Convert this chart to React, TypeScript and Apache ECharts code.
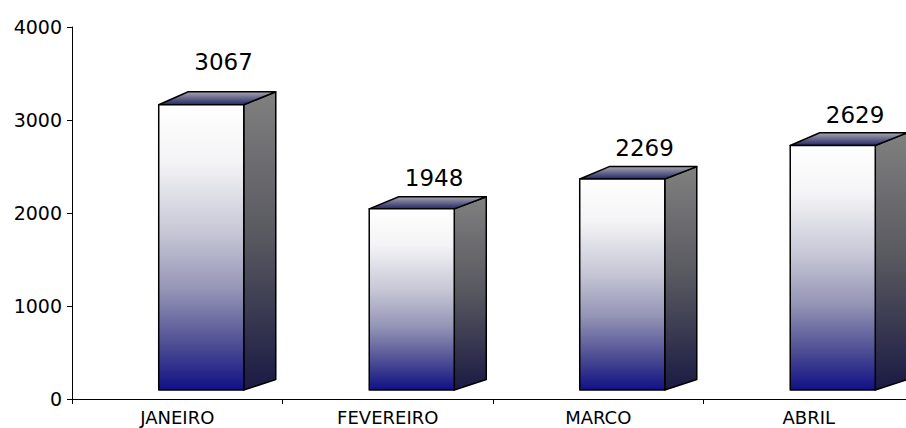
import React, { useEffect, useRef } from "react";
import * as echarts from "echarts";

// Monthly totals
const categories = ["JANEIRO", "FEVEREIRO", "MARCO", "ABRIL"];
const values = [3067, 1948, 2269, 2629];

// Value axis
const yMin = 0;
const yMax = 4000;
const yStep = 1000;

const FONT = "'DejaVu Sans', 'Liberation Sans', Arial, sans-serif";

// Extra lift for labels that Excel pushed higher
const labelNudge: Record<number, number> = { 0: 12 };

export default function App() {
  const ref = useRef<HTMLDivElement>(null);

  useEffect(() => {
    if (!ref.current) return;
    const chart = echarts.init(ref.current, undefined, { renderer: "svg" });

    const frontFill = new echarts.graphic.LinearGradient(0, 0, 0, 1, [
      { offset: 0, color: "#ffffff" },
      { offset: 0.2, color: "#f4f4f6" },
      { offset: 0.45, color: "#c6c6d6" },
      { offset: 0.65, color: "#9494b6" },
      { offset: 0.85, color: "#4a4a92" },
      { offset: 1, color: "#101086" },
    ]);
    const sideFill = new echarts.graphic.LinearGradient(0, 0, 0, 1, [
      { offset: 0, color: "#808080" },
      { offset: 0.5, color: "#57575f" },
      { offset: 1, color: "#1a1a44" },
    ]);
    const topFill = new echarts.graphic.LinearGradient(0, 0, 0, 1, [
      { offset: 0, color: "#a6a6ae" },
      { offset: 1, color: "#262668" },
    ]);

    const edge = { stroke: "#000000", lineWidth: 1.5, lineJoin: "round" };

    chart.setOption({
      animation: false,
      backgroundColor: "#ffffff",
      grid: {
        left: 72,
        top: 27,
        width: 842,
        height: 372,
        containLabel: false,
        outerBoundsMode: "none",
      },
      xAxis: {
        type: "category",
        data: categories,
        boundaryGap: true,
        axisLine: { show: true, lineStyle: { color: "#000000", width: 1 } },
        axisTick: { show: true, length: 5, lineStyle: { color: "#000000" } },
        axisLabel: {
          color: "#000000",
          fontFamily: FONT,
          fontSize: 18,
          margin: 9,
        },
        splitLine: { show: false },
      },
      yAxis: {
        type: "value",
        min: yMin,
        max: yMax,
        interval: yStep,
        axisLine: { show: true, lineStyle: { color: "#000000", width: 1 } },
        axisTick: { show: true, length: 5, lineStyle: { color: "#000000" } },
        axisLabel: {
          color: "#000000",
          fontFamily: FONT,
          fontSize: 19,
          margin: 10,
          formatter: (v: number) => String(v),
        },
        splitLine: { show: false },
      },
      series: [
        {
          type: "custom",
          encode: { x: 0, y: 1 },
          data: categories.map((_, i) => [i, values[i]]),
          renderItem: (params: any, api: any) => {
            const idx = api.value(0);
            const v = api.value(1);
            const top = api.coord([idx, v]);
            const base = api.coord([idx, 0]);
            const band = api.size([1, 0])[0];

            // the box floor sits slightly above the axis
            const lift = 9;
            const fx0 = top[0] - band * 0.088;
            const fw = band * 0.404;
            const fx1 = fx0 + fw;
            const yT = top[1] - lift;
            const yB = base[1] - lift;
            const h = yB - yT;

            // receding depth edges
            const dxL = 29.5;
            const dxR = 32;
            const dyTop = -(10.5 + h * 0.009);
            const dyBot = -10.5;

            const labelX = top[0] + band * 0.22;
            const labelY = yT - 31 - (labelNudge[params.dataIndex] || 0);

            return {
              type: "group",
              children: [
                {
                  type: "polygon",
                  shape: {
                    points: [
                      [fx1, yT],
                      [fx1 + dxR, yT + dyTop],
                      [fx1 + dxR, yB + dyBot],
                      [fx1, yB],
                    ],
                  },
                  style: { fill: sideFill, ...edge },
                },
                {
                  type: "polygon",
                  shape: {
                    points: [
                      [fx0, yT],
                      [fx1, yT],
                      [fx1 + dxR, yT + dyTop],
                      [fx0 + dxL, yT + dyTop],
                    ],
                  },
                  style: { fill: topFill, ...edge },
                },
                {
                  type: "rect",
                  shape: { x: fx0, y: yT, width: fw, height: h },
                  style: { fill: frontFill, ...edge },
                },
                {
                  type: "text",
                  x: labelX,
                  y: labelY,
                  style: {
                    text: String(v),
                    fill: "#000000",
                    font: `23px ${FONT}`,
                    align: "center",
                    verticalAlign: "middle",
                  },
                },
              ],
            };
          },
        },
      ],
    });

    return () => chart.dispose();
  }, []);

  return (
    <div
      ref={ref}
      style={{ position: "fixed", left: 0, top: 0, width: 906, height: 428 }}
    />
  );
}
